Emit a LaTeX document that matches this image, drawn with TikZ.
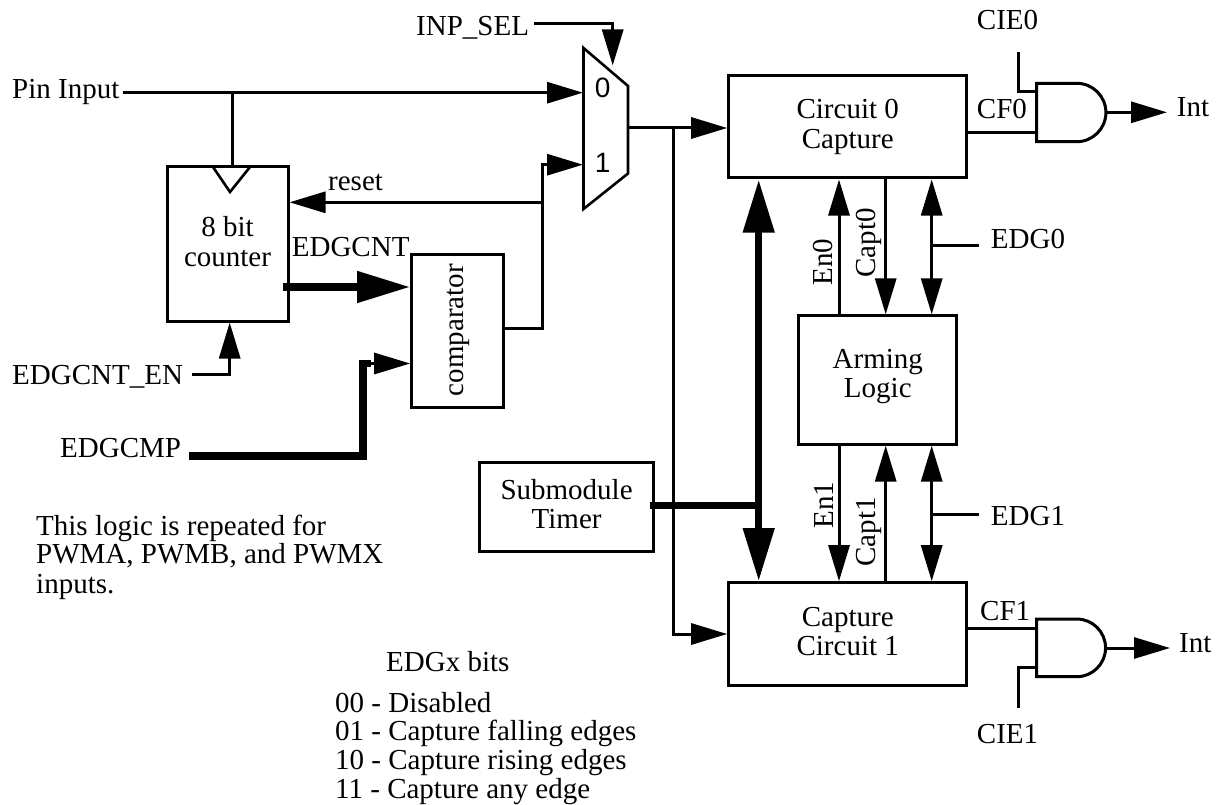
\documentclass[tikz,border=0pt]{standalone}
\usepackage{fontspec}
\setmainfont{Liberation Serif}
\newfontfamily\muxfont{Liberation Sans}
\usetikzlibrary{arrows.meta,calc}
\tikzset{
  wire/.style={line width=3pt,line cap=butt,line join=miter},
  thin wire/.style={line width=2.6pt,line join=miter},
  bus/.style={line width=7.5pt,line join=miter},
  tipS/.style={-{Triangle[length=36pt,width=21pt]}},
  tipD/.style={{Triangle[length=36pt,width=21pt]}-{Triangle[length=36pt,width=21pt]}},
  tipB/.style={-{Triangle[length=53pt,width=30pt]}},
  tipBD/.style={{Triangle[length=53pt,width=30pt]}-{Triangle[length=53pt,width=30pt]}},
  box/.style={draw,line width=3pt,inner sep=0pt,align=center,anchor=center,font=\fontsize{29}{29.2}\selectfont},
  lbl/.style={inner sep=0pt,anchor=base west,font=\fontsize{29}{29}\selectfont},
  lblv/.style={inner sep=0pt,rotate=90,anchor=base,font=\fontsize{29}{29}\selectfont},
}
\begin{document}
\begin{tikzpicture}[x=1pt,y=-1pt]
\useasboundingbox (0,0) rectangle (1217,805);
% boxes
\node[box,minimum width=121pt,minimum height=154pt,text depth=5pt] (cnt) at (227.5,244) {8 bit\\counter};
\node[box,minimum width=92pt,minimum height=153pt] (cmp) at (457.7,330.8) {};
\node[box,minimum width=174.7pt,minimum height=89.4pt,text depth=6pt] (tmr) at (566.6,507) {Submodule\\Timer};
\node[box,minimum width=238pt,minimum height=102pt] (c0) at (847.7,127) {Circuit 0\\Capture};
\node[box,minimum width=238pt,minimum height=103pt,text depth=5pt] (c1) at (847.7,634.2) {Capture\\Circuit 1};
\node[box,minimum width=157.7pt,minimum height=128.3pt,text depth=14pt] (arm) at (877.8,380) {Arming\\Logic};
\node[lblv] (cmptxt) at (463,330) {comparator};
% mux
\coordinate (m1) at (583.5,48);
\coordinate (m2) at (628,86);
\coordinate (m3) at (628,173.5);
\coordinate (m4) at (583.5,209);
\draw[thin wire] (m1) -- (m2) -- (m3) -- (m4) -- cycle;
\node[inner sep=0pt,anchor=base,font=\muxfont\fontsize{28}{28}\selectfont] (mz) at (602.7,98) {0};
\node[inner sep=0pt,anchor=base,font=\muxfont\fontsize{28}{28}\selectfont] (mo) at (602.7,173) {1};
\coordinate (mtop) at (612.7,65.5);
\coordinate (min0) at (583,92.7);
\coordinate (min1) at (583,164.7);
\coordinate (mout) at (628,128);
% counter clock triangle
\coordinate (k1) at (213,167);
\coordinate (k2) at (250,167);
\coordinate (k3) at (230,192);
\draw[thin wire] (k1) -- (k3) -- (k2);
% labels
\node[lbl] (pin) at (12,98.3) {Pin Input};
\node[lbl] (inp) at (416,36) {INP\_SEL};
\node[lbl] (rst) at (328,190.7) {reset};
\node[lbl] (ecn) at (291.7,256.7) {EDGCNT};
\node[lbl] (een) at (12,384) {EDGCNT\_EN};
\node[lbl] (ecm) at (60,457) {EDGCMP};
\node[lbl] (n1) at (36,535) {This logic is repeated for};
\node[lbl] (n2) at (36,563.5) {PWMA, PWMB, and PWMX};
\node[lbl] (n3) at (36,593) {inputs.};
\node[lbl] (e0) at (386,671.7) {EDGx bits};
\node[lbl] (e1) at (335,712.7) {00 - Disabled};
\node[lbl] (e2) at (335,740.5) {01 - Capture falling edges};
\node[lbl] (e3) at (335,769) {10 - Capture rising edges};
\node[lbl] (e4) at (335,798) {11 - Capture any edge};
\node[lblv] (en0) at (832,262) {En0};
\node[lblv] (cp0) at (875,243) {Capt0};
\node[lblv] (en1) at (833,505) {En1};
\node[lblv] (cp1) at (875,532) {Capt1};
\node[lbl] (edg0) at (990.7,248) {EDG0};
\node[lbl] (edg1) at (990.7,525) {EDG1};
\node[lbl] (cf0) at (976.7,119) {CF0};
\node[lbl] (cf1) at (980,620) {CF1};
\node[lbl] (cie0) at (976.7,30) {CIE0};
\node[lbl] (cie1) at (976.7,743) {CIE1};
\node[lbl] (int0) at (1176.7,116.7) {Int};
\node[lbl] (int1) at (1179,652.7) {Int};
% guide coordinates
\coordinate (xpin) at (232.7,92.7);
\coordinate (xsel) at (542.7,202.3);
\coordinate (xfan) at (673.5,126);
\coordinate (xbus) at (758.7,505.7);
\coordinate (xen0) at (839,0);
\coordinate (xcp) at (885.7,0);
\coordinate (xdb) at (931.7,0);
\coordinate (s0) at (979,245.7);
\coordinate (s1) at (979,514);
% inputs
\coordinate (pinS) at (123.3,92.7);
\draw[wire,tipS] (pinS) -- (min0);
\draw[wire] (xpin) -- (xpin |- cnt.north);
\coordinate (selS) at (534,23.3);
\draw[wire,tipS] (selS) -| (mtop);
\coordinate (cmpO) at ($(cmp.east)+(0,2.5)$);
\coordinate (cmpO) at (cmp.east |- 0,328.3);
\coordinate (selT) at (xsel |- min1);
\draw[wire,tipS] (cmpO) -- (cmpO -| xsel) -- (selT) -- (min1);
\draw[wire,tipS] (xsel) -- (xsel -| cnt.east);
\coordinate (enS) at (191.7,374);
\coordinate (enC) at (229.7,374);
\draw[wire,tipS] (enS) -- (enC) -- (enC |- cnt.south);
\coordinate (cntO) at (283,287);
\draw[bus,tipB] (cntO) -- (cntO -| cmp.west);
\coordinate (cmpS) at (189,456);
\coordinate (cmpC) at (363,456);
\coordinate (cmpI) at (363,363.5);
\coordinate (cmpA) at (371,363.5);
\draw[bus] (cmpS) -- (cmpC) -- (cmpI) -- (cmpA);
\draw[wire,tipS] (cmpA) -- (cmpA -| cmp.west);
% mux output
\draw[wire,tipS] (mout) -- (mout -| c0.west);
\coordinate (fanB) at (673.5,634);
\draw[wire,tipS] (xfan) -- (fanB) -- (fanB -| c1.west);
% timer bus
\coordinate (tmrO) at (650,505.7);
\draw[bus] (tmrO) -- (xbus);
\draw[bus,tipBD] (xbus |- c0.south) -- (xbus |- c1.north);
% arming links
\draw[wire,tipS] (arm.north -| xen0) -- (c0.south -| xen0);
\draw[wire,tipS] (c0.south -| xcp) -- (arm.north -| xcp);
\draw[wire,tipD] (c0.south -| xdb) -- (arm.north -| xdb);
\draw[wire] (s0 -| xdb) -- (s0);
\draw[wire,tipS] (arm.south -| xen0) -- (c1.north -| xen0);
\draw[wire,tipS] (c1.north -| xcp) -- (arm.south -| xcp);
\draw[wire,tipD] (arm.south -| xdb) -- (c1.north -| xdb);
\draw[wire] (s1 -| xdb) -- (s1);
% and gate 0
\coordinate (a0) at (1036.7,83.3);
\coordinate (a0b) at (1036.7,141.7);
\coordinate (a0o) at (1105,112.3);
\coordinate (int0tip) at (1167,112.3);
\draw[wire] (a0) -- (1076.7,83.3) arc[start angle=90,end angle=-90,radius=29.2pt] -- (a0b) -- cycle;
\draw[wire,tipS] (a0o) -- (int0tip);
\coordinate (cf0p) at (1036.7,132.3);
\draw[wire] (c0.east |- cf0p) -- (cf0p);
\coordinate (cie0a) at (1018.7,52);
\coordinate (cie0b) at (1018.7,92);
\draw[wire] (cie0a) -- (cie0b) -- (cie0b -| a0);
% and gate 1
\coordinate (a1) at (1036.7,619);
\coordinate (a1b) at (1036.7,676.7);
\coordinate (a1o) at (1105,648);
\coordinate (int1tip) at (1170,648);
\draw[wire] (a1) -- (1076.7,619) arc[start angle=90,end angle=-90,radius=28.85pt] -- (a1b) -- cycle;
\draw[wire,tipS] (a1o) -- (int1tip);
\coordinate (cf1p) at (1036.7,628.7);
\draw[wire] (c1.east |- cf1p) -- (cf1p);
\coordinate (cie1a) at (1018.7,707.7);
\coordinate (cie1b) at (1018.7,667);
\draw[wire] (cie1a) -- (cie1b) -- (cie1b -| a1);
\end{tikzpicture}
\end{document}
